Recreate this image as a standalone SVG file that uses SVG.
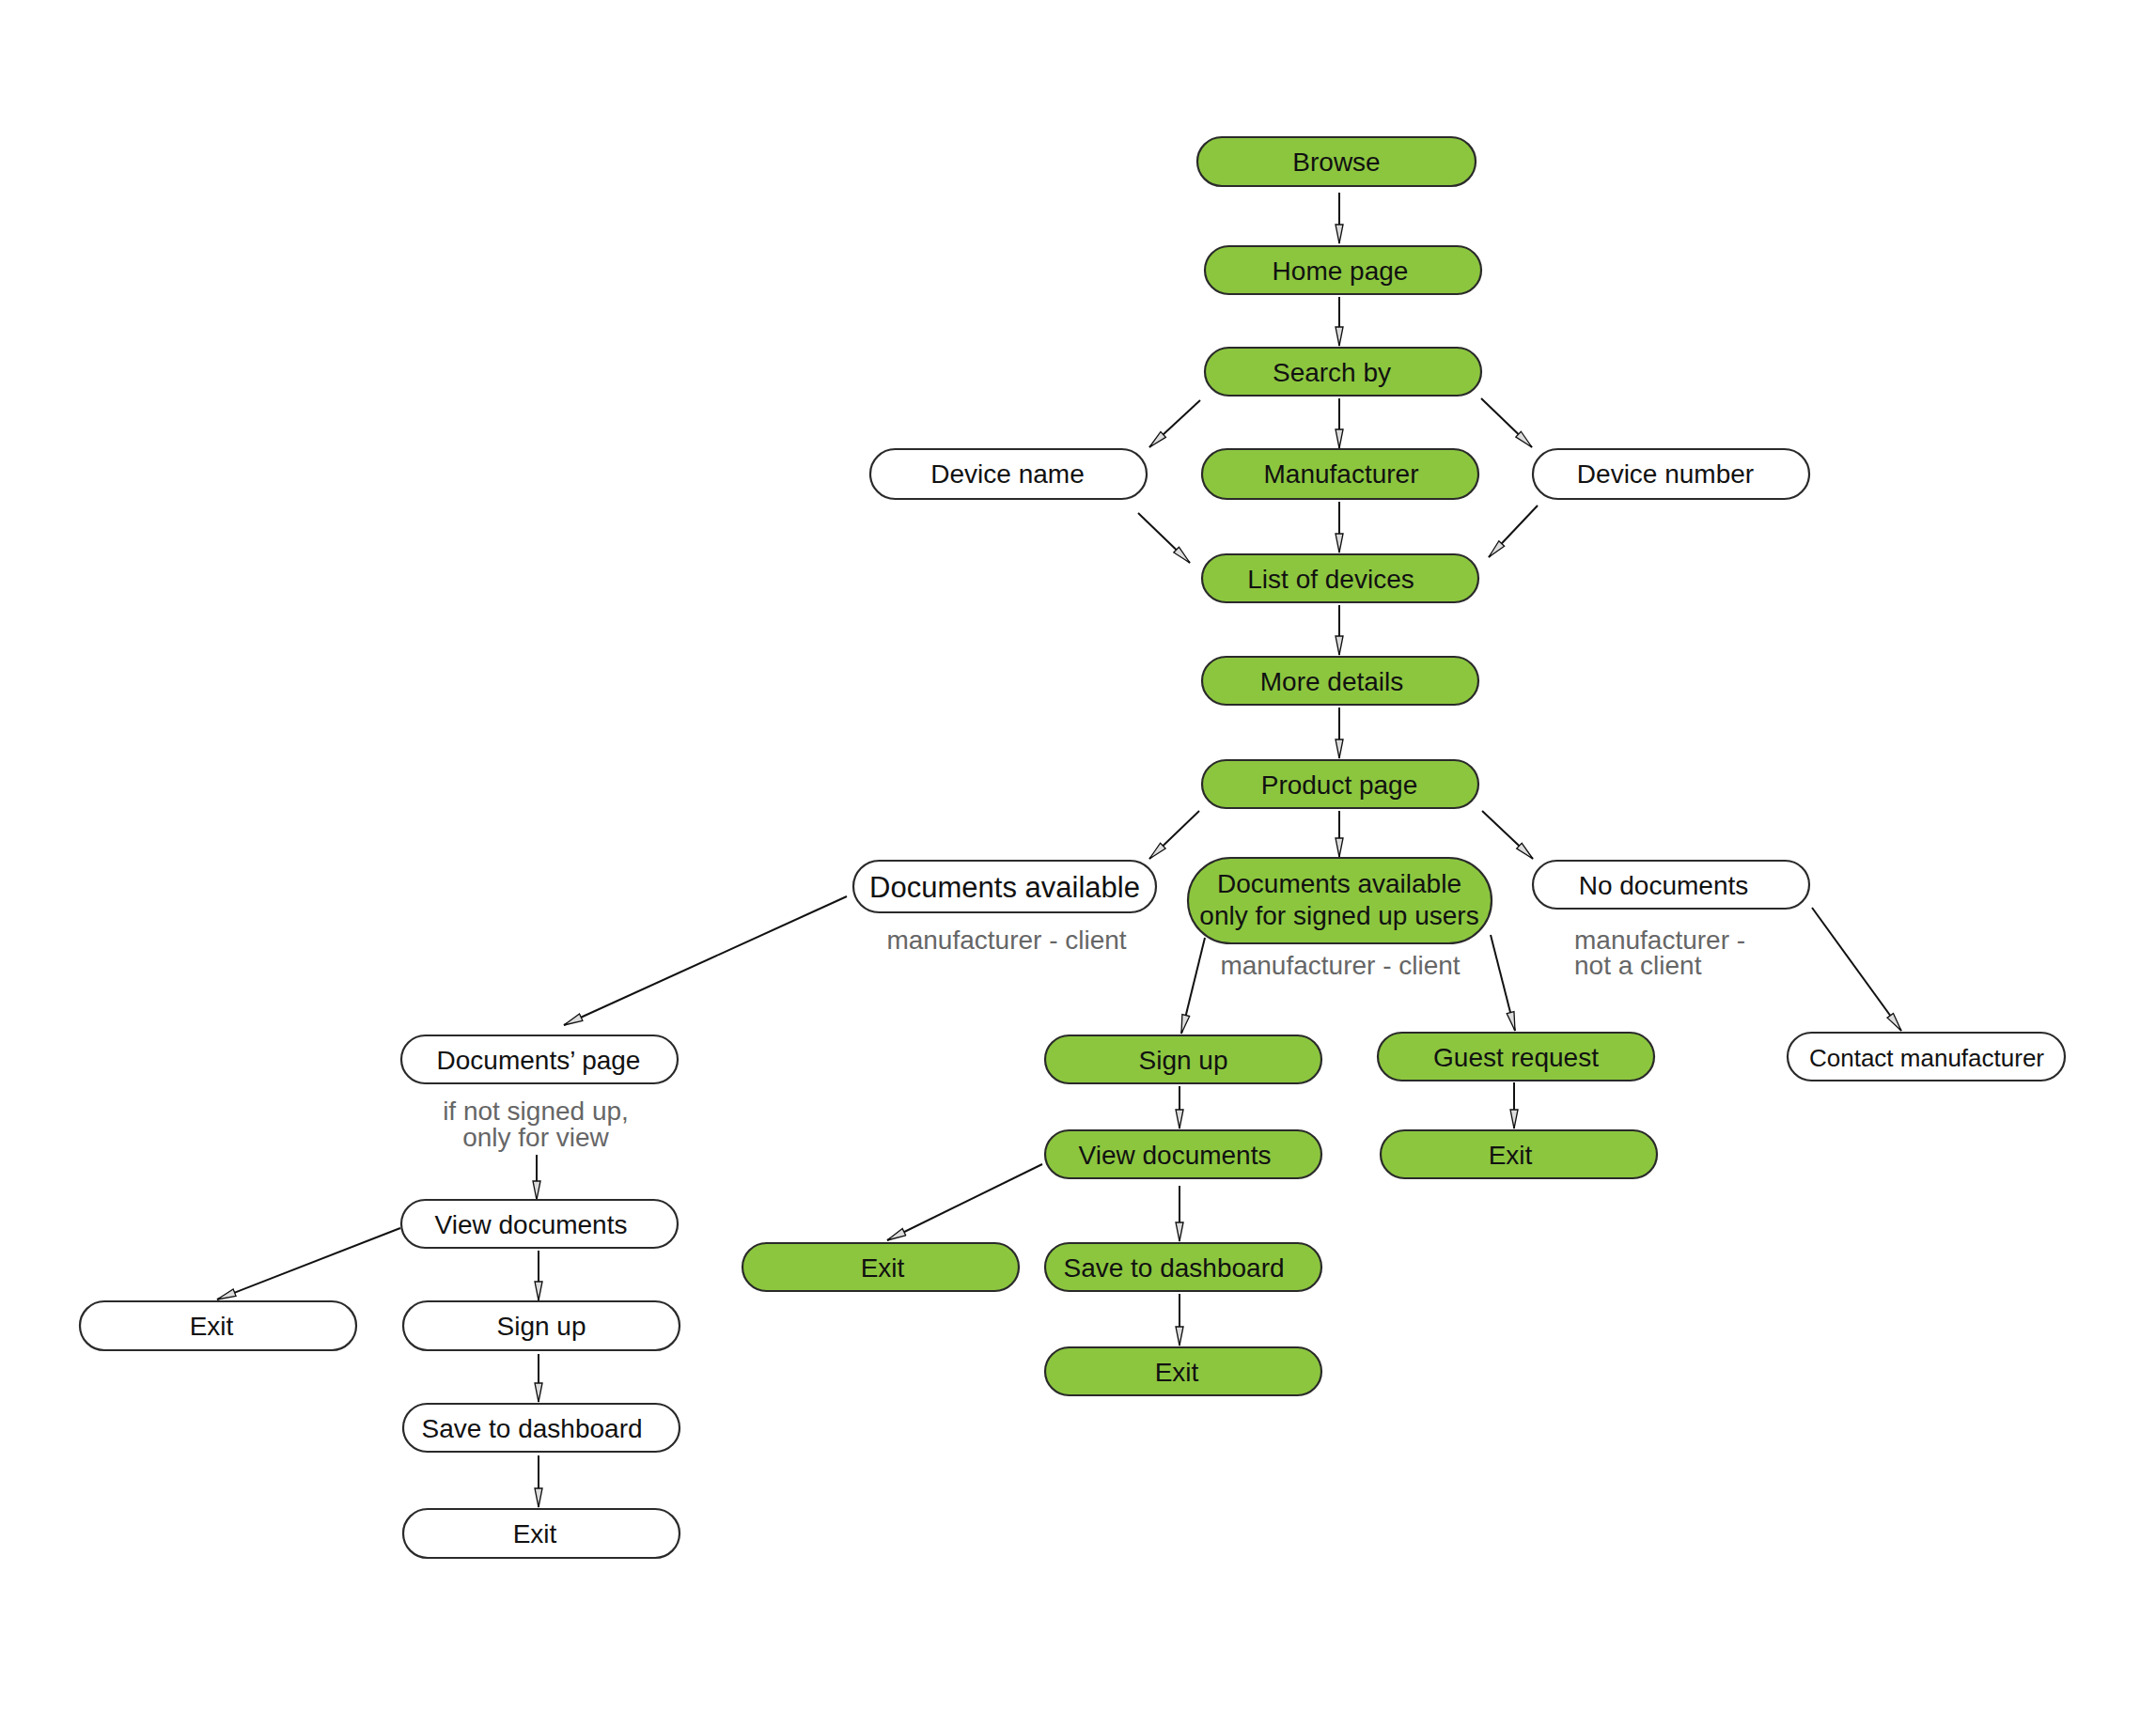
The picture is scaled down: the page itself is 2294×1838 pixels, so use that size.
<svg xmlns="http://www.w3.org/2000/svg" width="2294" height="1838" viewBox="0 0 2294 1838">
<style>
.g{fill:#8CC63F;stroke:#2a2a2a;stroke-width:2.2}
.w{fill:#ffffff;stroke:#2a2a2a;stroke-width:2.2}
.t{font-family:"Liberation Sans",Arial,sans-serif;font-size:28px;fill:#111;text-anchor:middle}
.n{font-family:"Liberation Sans",Arial,sans-serif;font-size:28px;fill:#666;text-anchor:middle}
.c line{stroke:#111;stroke-width:2;marker-end:url(#ah)}
</style>
<defs>
<marker id="ah" markerUnits="userSpaceOnUse" markerWidth="24" markerHeight="12" refX="21" refY="5" orient="auto">
<path d="M1,1 L21,5 L1,9 Z" fill="#ddd" stroke="#111" stroke-width="1.3"/>
</marker>
</defs>
<rect width="2294" height="1838" fill="#fff"/>
<g class="c" id="connectors">
<line x1="1425" y1="205" x2="1425" y2="259"/>
<line x1="1425" y1="316" x2="1425" y2="368"/>
<line x1="1277" y1="426" x2="1223" y2="476"/>
<line x1="1425" y1="424" x2="1425" y2="477"/>
<line x1="1576" y1="424" x2="1630" y2="476"/>
<line x1="1211" y1="546" x2="1266" y2="599"/>
<line x1="1425" y1="534" x2="1425" y2="588"/>
<line x1="1636" y1="538" x2="1584" y2="593"/>
<line x1="1425" y1="644" x2="1425" y2="697"/>
<line x1="1425" y1="753" x2="1425" y2="807"/>
<line x1="1276" y1="863" x2="1223" y2="914"/>
<line x1="1425" y1="863" x2="1425" y2="912"/>
<line x1="1577" y1="863" x2="1631" y2="914"/>
<line x1="901" y1="954" x2="600" y2="1091"/>
<line x1="1282" y1="998" x2="1257" y2="1100"/>
<line x1="1586" y1="995" x2="1612" y2="1097"/>
<line x1="1928" y1="966" x2="2023" y2="1097"/>
<line x1="571" y1="1229" x2="571" y2="1277"/>
<line x1="426" y1="1307" x2="231" y2="1383"/>
<line x1="573" y1="1331" x2="573" y2="1384"/>
<line x1="573" y1="1441" x2="573" y2="1492"/>
<line x1="573" y1="1549" x2="573" y2="1604"/>
<line x1="1255" y1="1156" x2="1255" y2="1201"/>
<line x1="1109" y1="1239" x2="944" y2="1320"/>
<line x1="1255" y1="1262" x2="1255" y2="1321"/>
<line x1="1255" y1="1377" x2="1255" y2="1432"/>
<line x1="1611" y1="1152" x2="1611" y2="1201"/>
</g>
<g id="browse"><rect class="g" x="1274" y="146" width="296" height="52" rx="26"/><text class="t" x="1422" y="182">Browse</text></g>
<g id="home"><rect class="g" x="1282" y="262" width="294" height="51" rx="25.5"/><text class="t" x="1426" y="298">Home page</text></g>
<g id="search"><rect class="g" x="1282" y="370" width="294" height="51" rx="25.5"/><text class="t" x="1417" y="406">Search by</text></g>
<g id="devname"><rect class="w" x="926" y="478" width="294" height="53" rx="26.5"/><text class="t" x="1072" y="514">Device name</text></g>
<g id="manuf"><rect class="g" x="1279" y="478" width="294" height="53" rx="26.5"/><text class="t" x="1427" y="514">Manufacturer</text></g>
<g id="devnum"><rect class="w" x="1631" y="478" width="294" height="53" rx="26.5"/><text class="t" x="1772" y="514">Device number</text></g>
<g id="list"><rect class="g" x="1279" y="590" width="294" height="51" rx="25.5"/><text class="t" x="1416" y="626">List of devices</text></g>
<g id="more"><rect class="g" x="1279" y="699" width="294" height="51" rx="25.5"/><text class="t" x="1417" y="735">More details</text></g>
<g id="product"><rect class="g" x="1279" y="809" width="294" height="51" rx="25.5"/><text class="t" x="1425" y="845">Product page</text></g>
<g id="docsavail"><rect class="w" x="908" y="916" width="322" height="55" rx="27.5"/><text class="t" x="1069" y="955" style="font-size:31px">Documents available</text><text class="n" x="1071" y="1010">manufacturer - client</text></g>
<g id="docssigned"><rect class="g" x="1264" y="913" width="323" height="91" rx="45.5"/><text class="t" x="1425" y="950">Documents available</text><text class="t" x="1425" y="984">only for signed up users</text><text class="n" x="1426" y="1037">manufacturer - client</text></g>
<g id="nodocs"><rect class="w" x="1631" y="916" width="294" height="51" rx="25.5"/><text class="t" x="1770" y="952">No documents</text><text class="n" x="1675" y="1010" style="text-anchor:start">manufacturer -</text><text class="n" x="1675" y="1037" style="text-anchor:start">not a client</text></g>
<g id="docspage"><rect class="w" x="427" y="1102" width="294" height="51" rx="25.5"/><text class="t" x="573" y="1138">Documents’ page</text><text class="n" x="570" y="1192">if not signed up,</text><text class="n" x="570" y="1220">only for view</text></g>
<g id="viewdocs1"><rect class="w" x="427" y="1277" width="294" height="51" rx="25.5"/><text class="t" x="565" y="1313">View documents</text></g>
<g id="exit1"><rect class="w" x="85" y="1385" width="294" height="52" rx="26"/><text class="t" x="225" y="1421">Exit</text></g>
<g id="signup1"><rect class="w" x="429" y="1385" width="294" height="52" rx="26"/><text class="t" x="576" y="1421">Sign up</text></g>
<g id="save1"><rect class="w" x="429" y="1494" width="294" height="51" rx="25.5"/><text class="t" x="566" y="1530">Save to dashboard</text></g>
<g id="exit2"><rect class="w" x="429" y="1606" width="294" height="52" rx="26"/><text class="t" x="569" y="1642">Exit</text></g>
<g id="signup2"><rect class="g" x="1112" y="1102" width="294" height="51" rx="25.5"/><text class="t" x="1259" y="1138">Sign up</text></g>
<g id="viewdocs2"><rect class="g" x="1112" y="1203" width="294" height="51" rx="25.5"/><text class="t" x="1250" y="1239">View documents</text></g>
<g id="exit3"><rect class="g" x="790" y="1323" width="294" height="51" rx="25.5"/><text class="t" x="939" y="1359">Exit</text></g>
<g id="save2"><rect class="g" x="1112" y="1323" width="294" height="51" rx="25.5"/><text class="t" x="1249" y="1359">Save to dashboard</text></g>
<g id="exit4"><rect class="g" x="1112" y="1434" width="294" height="51" rx="25.5"/><text class="t" x="1252" y="1470">Exit</text></g>
<g id="guest"><rect class="g" x="1466" y="1099" width="294" height="51" rx="25.5"/><text class="t" x="1613" y="1135">Guest request</text></g>
<g id="exit5"><rect class="g" x="1469" y="1203" width="294" height="51" rx="25.5"/><text class="t" x="1607" y="1239">Exit</text></g>
<g id="contact"><rect class="w" x="1902" y="1099" width="295" height="51" rx="25.5"/><text class="t" x="2050" y="1135" style="font-size:26px">Contact manufacturer</text></g>
</svg>
